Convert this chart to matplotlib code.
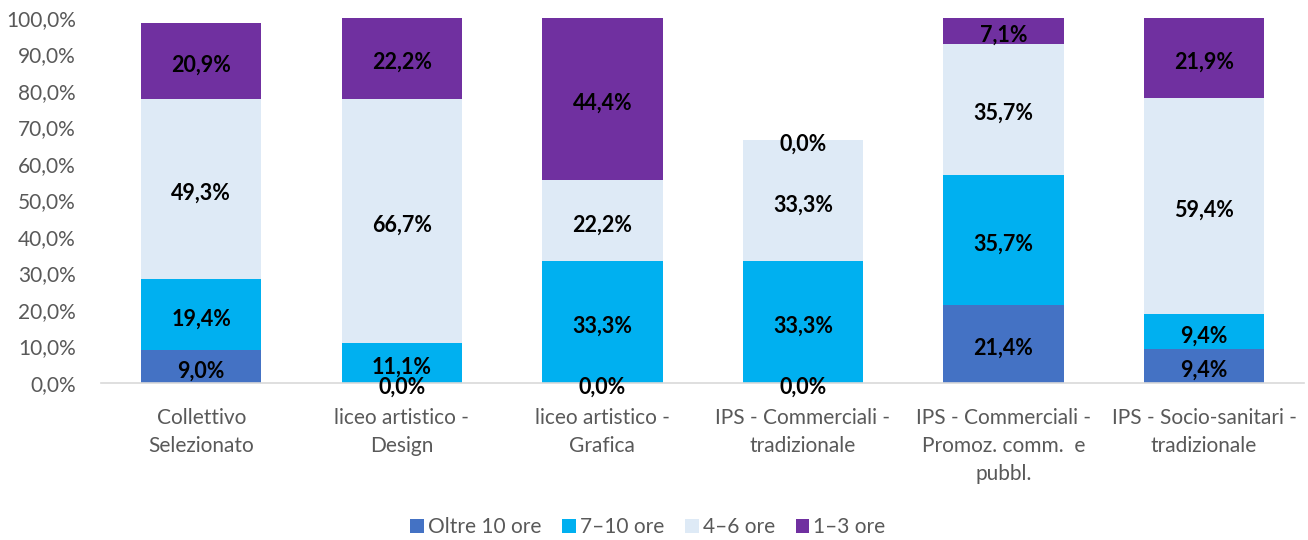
import numpy as np
import matplotlib.pyplot as plt
from matplotlib.patches import Patch

plt.rcParams['font.family'] = ['Lato', 'DejaVu Sans']

categories = ["Collettivo\nSelezionato",
              "liceo artistico -\nDesign",
              "liceo artistico -\nGrafica",
              "IPS - Commerciali -\ntradizionale",
              "IPS - Commerciali -\nPromoz. comm.  e\npubbl.",
              "IPS - Socio-sanitari -\ntradizionale"]
series_names = ["Oltre 10 ore", "7\u201310 ore", "4\u20136 ore", "1\u20133 ore"]
oltre10 = [9.0, 0.0, 0.0, 0.0, 21.4, 9.4]
ore7_10 = [19.4, 11.1, 33.3, 33.3, 35.7, 9.4]
ore4_6 = [49.3, 66.7, 22.2, 33.3, 35.7, 59.4]
ore1_3 = [20.9, 22.2, 44.4, 0.0, 7.1, 21.9]
colors = ["#4472C4", "#00B0F0", "#DEEAF6", "#7030A0"]

data = [oltre10, ore7_10, ore4_6, ore1_3]
gray = "#595959"

fig = plt.figure(figsize=(13.08, 5.40), dpi=100)
ax = fig.add_axes([0.0772, 0.2907, 0.9200, 0.6760])

x = np.arange(len(categories))
bottom = np.zeros(len(categories))
for vals, name, col in zip(data, series_names, colors):
    vals = np.array(vals)
    ax.bar(x, vals, 0.6, bottom=bottom, color=col, label=name, zorder=2)
    for xi, b, v in zip(x, bottom, vals):
        top = min(b + v, 100)
        yc = (b + top) / 2
        ax.annotate(f"{v:.1f}%".replace(".", ","), (xi, yc), xytext=(0, -3),
                    textcoords="offset points", ha="center", va="center",
                    fontsize=15.5, fontweight="bold", color="black", zorder=3,
                    annotation_clip=False)
    bottom += vals

ax.set_xlim(-0.5, len(categories) - 0.5)
ax.set_ylim(0, 100)
ax.set_yticks(np.arange(0, 101, 10))
ax.set_yticklabels([f"{v:.1f}%".replace(".", ",") for v in np.arange(0, 101, 10)])
ax.set_xticks(x)
ax.set_xticklabels(categories, linespacing=1.5)
ax.tick_params(axis="both", length=0, labelsize=15, labelcolor=gray)
ax.tick_params(axis="x", pad=18)
ax.tick_params(axis="y", pad=18)
for s in ["top", "right", "left"]:
    ax.spines[s].set_visible(False)
ax.spines["bottom"].set_color("#D9D9D9")
ax.spines["bottom"].set_linewidth(1.2)

handles = [Patch(facecolor=c, label=n) for c, n in zip(colors, series_names)]
fig.legend(handles=handles, loc="center", bbox_to_anchor=(648 / 1308, 1 - 527 / 540), ncol=4,
           frameon=False, fontsize=15, labelcolor=gray, handlelength=0.65,
           handleheight=0.65, handletextpad=0.2, columnspacing=1.0)

fig.savefig("out.png", dpi=100, facecolor="white")
